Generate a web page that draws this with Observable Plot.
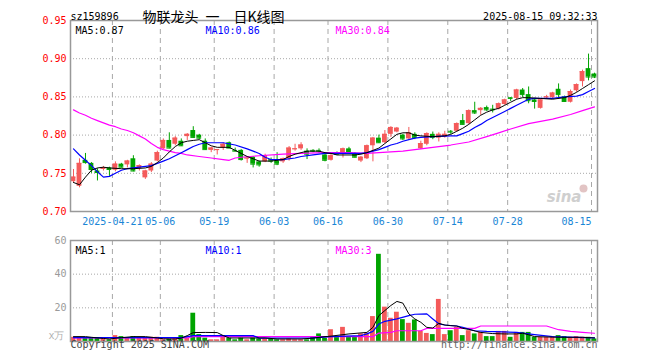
<!DOCTYPE html>
<html><head><meta charset="utf-8">
<script src="https://cdn.jsdelivr.net/npm/d3@7"></script>
<script src="https://cdn.jsdelivr.net/npm/@observablehq/plot@0.6"></script>
<style>
html,body{margin:0;padding:0;background:#fff;}
#chart{position:relative;width:660px;height:360px;overflow:hidden;}
#chart svg{display:block;}
</style></head><body><div id="chart"></div>
<script>
// ---- data (sz159896, daily K) ----
const openP  = [0.739,0.733,0.767,0.763,0.753,0.755,0.757,0.754,0.762,0.761,0.769,0.756,0.744,0.753,0.766,0.782,0.793,0.788,0.792,0.798,0.806,0.800,0.792,0.780,0.780,0.783,0.790,0.780,0.780,0.769,0.771,0.765,0.765,0.768,0.766,0.765,0.769,0.781,0.782,0.779,0.780,0.780,0.774,0.767,0.776,0.775,0.782,0.776,0.766,0.769,0.786,0.796,0.790,0.801,0.804,0.800,0.795,0.801,0.782,0.788,0.801,0.796,0.797,0.805,0.805,0.819,0.815,0.832,0.832,0.836,0.834,0.834,0.840,0.849,0.848,0.859,0.853,0.846,0.835,0.849,0.849,0.860,0.850,0.843,0.858,0.870,0.887,0.880];
const highP  = [0.755,0.769,0.776,0.764,0.756,0.759,0.758,0.765,0.763,0.767,0.773,0.761,0.754,0.764,0.779,0.795,0.803,0.798,0.795,0.802,0.811,0.801,0.795,0.784,0.781,0.790,0.791,0.783,0.781,0.771,0.772,0.766,0.775,0.770,0.777,0.770,0.785,0.788,0.790,0.782,0.781,0.782,0.775,0.775,0.778,0.783,0.784,0.777,0.772,0.787,0.797,0.800,0.806,0.811,0.810,0.801,0.810,0.803,0.792,0.803,0.804,0.803,0.805,0.806,0.816,0.827,0.833,0.843,0.836,0.838,0.839,0.842,0.847,0.849,0.860,0.861,0.863,0.848,0.847,0.852,0.856,0.867,0.851,0.859,0.867,0.885,0.906,0.881];
const lowP   = [0.737,0.731,0.762,0.750,0.740,0.753,0.746,0.752,0.757,0.757,0.752,0.753,0.742,0.751,0.765,0.781,0.782,0.786,0.785,0.793,0.796,0.794,0.780,0.777,0.774,0.780,0.782,0.778,0.766,0.763,0.757,0.758,0.764,0.763,0.760,0.763,0.766,0.779,0.780,0.768,0.777,0.776,0.765,0.766,0.774,0.770,0.776,0.770,0.764,0.768,0.765,0.789,0.789,0.797,0.803,0.793,0.794,0.794,0.781,0.786,0.794,0.791,0.796,0.801,0.804,0.813,0.814,0.827,0.826,0.831,0.829,0.833,0.839,0.844,0.846,0.849,0.841,0.834,0.834,0.847,0.848,0.849,0.843,0.842,0.856,0.863,0.871,0.874];
const closeP = [0.745,0.763,0.764,0.755,0.751,0.757,0.755,0.762,0.758,0.766,0.753,0.760,0.753,0.762,0.777,0.793,0.783,0.796,0.786,0.801,0.797,0.796,0.781,0.783,0.781,0.788,0.783,0.779,0.768,0.770,0.762,0.761,0.773,0.766,0.762,0.769,0.783,0.782,0.787,0.775,0.779,0.779,0.767,0.773,0.775,0.782,0.777,0.771,0.771,0.786,0.796,0.790,0.801,0.810,0.809,0.795,0.803,0.797,0.789,0.802,0.797,0.801,0.801,0.804,0.815,0.814,0.832,0.829,0.835,0.833,0.833,0.841,0.846,0.848,0.859,0.853,0.845,0.844,0.846,0.850,0.855,0.853,0.844,0.857,0.866,0.883,0.876,0.876];
const volume = [2.5,2.5,2.0,2.0,2.0,2.0,1.0,3.5,2.9,2.0,2.9,2.0,2.0,2.5,2.5,1.0,1.5,2.0,3.5,2.0,16.8,4.1,2.0,1.0,1.0,2.5,2.0,1.0,2.0,1.0,2.0,1.5,1.5,1.5,1.0,1.0,1.5,1.0,1.0,1.0,2.9,4.5,2.0,7.0,2.5,8.4,2.5,2.5,4.5,4.7,14.8,51.8,20.4,13.8,17.4,13.0,10.8,12.8,6.0,4.8,4.1,25.0,4.1,6.4,8.4,3.5,6.4,4.5,5.4,2.9,2.9,6.0,6.0,2.5,5.4,5.4,5.4,2.5,2.5,2.5,2.9,3.5,2.9,2.5,2.9,2.5,2.5,1.5];

// moving-average lines (candle index, value)
const ma5Idx  = [0,1,2,3,4,5,6,8,10,12,13,14,15,16,17,18,19,20,21,22,23,24,26,27,28,29,30,31,33,35,36,37,38,39,41,42,43,44,47,48,49,50,51,52,53,54,55,56,57,58,60,62,63,64,65,66,67,68,69,70,71,72,73,74,75,76,78,80,82,83,84,85,86,87];
const ma5Val  = [0.738,0.735,0.745,0.754,0.757,0.758,0.757,0.756,0.756,0.757,0.759,0.764,0.770,0.778,0.785,0.790,0.792,0.793,0.794,0.790,0.786,0.784,0.784,0.780,0.776,0.772,0.769,0.766,0.766,0.768,0.772,0.775,0.777,0.779,0.779,0.777,0.776,0.774,0.774,0.775,0.777,0.780,0.783,0.789,0.795,0.801,0.803,0.803,0.800,0.799,0.798,0.799,0.801,0.805,0.809,0.814,0.820,0.826,0.830,0.833,0.835,0.839,0.843,0.847,0.849,0.849,0.848,0.847,0.849,0.852,0.856,0.861,0.866,0.871];
const ma10Idx = [0,1,2,3,4,5,6,7,8,9,11,13,14,15,16,17,18,19,20,21,22,25,27,29,30,31,32,33,35,37,38,40,42,48,49,50,51,52,53,54,55,56,57,58,60,63,64,65,66,67,68,69,70,71,72,73,74,75,76,77,80,82,84,85,86,87];
const ma10Val = [0.782,0.774,0.767,0.760,0.752,0.745,0.746,0.750,0.754,0.756,0.758,0.760,0.763,0.766,0.769,0.773,0.777,0.781,0.785,0.788,0.790,0.790,0.787,0.782,0.779,0.776,0.771,0.768,0.768,0.770,0.772,0.774,0.776,0.776,0.777,0.779,0.781,0.784,0.787,0.789,0.792,0.794,0.796,0.797,0.798,0.799,0.799,0.802,0.805,0.810,0.814,0.819,0.823,0.827,0.831,0.835,0.839,0.843,0.847,0.848,0.848,0.850,0.851,0.853,0.857,0.861];
const ma30Idx = [0,1,2,3,4,5,6,7,8,9,10,11,12,13,14,15,16,17,18,19,21,23,25,26,27,28,31,35,38,42,46,49,51,53,55,58,61,63,66,69,71,73,76,80,83,85,87];
const ma30Val = [0.833,0.829,0.826,0.822,0.819,0.816,0.813,0.811,0.808,0.806,0.803,0.799,0.795,0.789,0.784,0.781,0.779,0.777,0.776,0.774,0.772,0.770,0.768,0.767,0.770,0.771,0.773,0.775,0.776,0.777,0.777,0.776,0.777,0.778,0.779,0.782,0.785,0.787,0.791,0.798,0.803,0.808,0.815,0.821,0.827,0.832,0.837];

const vma5Idx  = [0,2,3,5,6,8,10,12,14,15,16,17,18,19,20,22,24,25,26,28,32,34,38,40,42,43,46,49,50,51,52,53,54,55,56,57,58,59,60,61,62,63,64,65,66,68,70,72,74,75,76,77,80,82,85,87];
const vma5Val  = [2.9,2.9,2.5,1.8,1.5,2.3,2.9,2.9,2.1,1.6,1.5,1.5,2.0,3.5,5.3,5.4,5.3,3.5,2.1,2.1,2.1,1.5,1.5,2.0,2.9,3.2,4.5,5.4,8.4,15.4,18.4,21.4,23.8,22.8,16.4,13.4,11.4,8.4,8.0,10.8,9.8,9.4,9.2,7.8,7.2,5.4,4.7,4.5,4.5,4.9,4.0,2.9,2.6,2.5,2.5,2.1];
const vma10Idx = [0,18,19,20,30,31,40,43,48,49,50,51,52,54,56,57,59,60,61,62,64,65,67,69,74,77,80,84,87];
const vma10Val = [2.3,2.3,2.9,3.5,3.5,2.0,2.1,2.9,3.5,4.5,6.0,10.4,12.0,13.4,15.4,16.2,16.4,13.4,10.5,9.8,9.2,8.4,6.4,6.0,5.4,4.1,2.9,2.5,2.1];
const vma30Idx = [0,19,20,48,50,51,53,54,58,59,67,68,79,81,83,85,87];
const vma30Val = [2.1,2.1,2.9,2.9,2.9,5.0,5.4,6.4,6.4,7.8,7.8,9.2,9.2,7.0,6.0,5.4,4.9];

const dateIdx    = [7,15,24,34,43,53,63,73,87];
const dateLabels = ["2025-04-21","05-06","05-19","06-03","06-16","06-30","07-14","07-28","08-15"];
const priceTicks = [0.70,0.75,0.80,0.85,0.90,0.95];
const volTicks   = [20,40,60];
const priceLegend = ["MA5:0.87","MA10:0.86","MA30:0.84"];
const volLegend   = ["MA5:1","MA10:1","MA30:3"];
const codeText  = "sz159896";
const titleText = "物联龙头\u2002一\u2002\u2002日K线图";
const timeText  = "2025-08-15 09:32:33";

// ---- build tables ----
const candles = openP.map((o, i) => ({i, open: o, high: highP[i], low: lowP[i], close: closeP[i], vol: volume[i], up: closeP[i] >= o}));
const series = (idx, val) => idx.map((i, k) => ({i, v: val[k]}));
const ma5 = series(ma5Idx, ma5Val), ma10 = series(ma10Idx, ma10Val), ma30 = series(ma30Idx, ma30Val);
const vma5 = series(vma5Idx, vma5Val), vma10 = series(vma10Idx, vma10Val), vma30 = series(vma30Idx, vma30Val);
const dates = dateIdx.map((i, k) => ({i, label: dateLabels[k]}));

const UP = "#f45a5a", DOWN = "#00a400";
const col = d => d.up ? UP : DOWN;
const MONO = "'DejaVu Sans Mono', monospace";
const GRID = "#a8a8a8";
const LINECOL = ["#000000", "#0000ff", "#ff00ff"];
const xc = d => d.i + 0.5;

const legendMarks = (labels) => labels.map((t, k) => Plot.text([t], {
  frameAnchor: "top-left", text: d => d, dx: 5 + 130 * k, dy: 6.5, textAnchor: "start",
  fill: LINECOL[k], fontFamily: MONO, fontSize: 10
}));

const price = Plot.plot({
  width: 660, height: 232,
  marginTop: 20, marginBottom: 21, marginLeft: 70, marginRight: 63,
  style: {fontFamily: MONO, fontSize: "10px", background: "#fff"},
  x: {domain: [0, 88], axis: null},
  y: {domain: [0.70, 0.95], axis: null},
  marks: [
    Plot.ruleY(priceTicks.slice(1, -1), {stroke: GRID, strokeDasharray: "1,2"}),
    Plot.ruleX(dateIdx, {stroke: GRID, strokeDasharray: "5,4"}),
    Plot.text(["sina"], {frameAnchor: "bottom-right", text: d => d, dx: -16, dy: -10, fill: "#cfcfcf", fontSize: 15, fontWeight: "bold", fontStyle: "italic", fontFamily: "'DejaVu Sans', sans-serif"}),
    Plot.dot([0], {frameAnchor: "bottom-right", dx: -14, dy: -23, r: 4, fill: "#e2c4c4"}),
    Plot.ruleX(candles, {x: xc, y1: "low", y2: "high", stroke: col, strokeWidth: 1}),
    Plot.rect(candles, {x1: d => d.i + 0.1, x2: d => d.i + 0.9, y1: "open", y2: "close", fill: col}),
    Plot.ruleY(candles, {x1: d => d.i + 0.1, x2: d => d.i + 0.9, y: "close", stroke: col}),
    Plot.line(ma30, {x: xc, y: "v", stroke: LINECOL[2], strokeWidth: 1.2}),
    Plot.line(ma10, {x: xc, y: "v", stroke: LINECOL[1], strokeWidth: 1.2}),
    Plot.line(ma5, {x: xc, y: "v", stroke: LINECOL[0], strokeWidth: 1}),
    Plot.frame({stroke: "#999", strokeWidth: 1.5}),
    Plot.text(priceTicks, {frameAnchor: "left", y: d => d, text: d => d.toFixed(2), textAnchor: "end", dx: -4, fill: "#ff0000", fontSize: 10}),
    Plot.text(dates.slice(0, -1), {x: "i", y: 0.70, text: "label", dy: 10, fill: "#1a86d6", fontSize: 10}),
    Plot.text(dates.slice(-1), {x: "i", y: 0.70, text: "label", dy: 10, textAnchor: "end", fill: "#1a86d6", fontSize: 10}),
    ...legendMarks(priceLegend),
    Plot.text([codeText], {frameAnchor: "top-left", text: d => d, dy: -7.5, textAnchor: "start", fill: "#000", fontSize: 10}),
    Plot.text([titleText], {frameAnchor: "top-left", text: d => d, dx: 143, dy: -8, textAnchor: "middle", fill: "#000", fontSize: 14, fontFamily: "'Noto Sans CJK SC', sans-serif"}),
    Plot.text([timeText], {frameAnchor: "top-right", text: d => d, dy: -7.5, textAnchor: "end", fill: "#000", fontSize: 10})
  ]
});

const vol = Plot.plot({
  width: 660, height: 128,
  marginTop: 8, marginBottom: 19, marginLeft: 70, marginRight: 63,
  style: {fontFamily: MONO, fontSize: "10px", background: "#fff"},
  x: {domain: [0, 88], axis: null},
  y: {domain: [0, 60], axis: null},
  marks: [
    Plot.ruleY(volTicks.slice(0, -1), {stroke: GRID, strokeDasharray: "1,2"}),
    Plot.ruleX(dateIdx, {stroke: GRID, strokeDasharray: "5,4"}),
    Plot.rect(candles, {x1: d => d.i + 0.1, x2: d => d.i + 0.9, y1: 0, y2: "vol", fill: col}),
    Plot.line(vma30, {x: xc, y: "v", stroke: LINECOL[2], strokeWidth: 1.2}),
    Plot.line(vma10, {x: xc, y: "v", stroke: LINECOL[1], strokeWidth: 1.2}),
    Plot.line(vma5, {x: xc, y: "v", stroke: LINECOL[0], strokeWidth: 1}),
    Plot.frame({stroke: "#999", strokeWidth: 1.5}),
    Plot.text(volTicks, {frameAnchor: "left", y: d => d, text: d => String(d), textAnchor: "end", dx: -4, fill: "#9a9a9a", fontSize: 10}),
    Plot.text(["x万"], {frameAnchor: "bottom-left", text: d => d, textAnchor: "end", dx: -6, dy: -3, fill: "#b0b0b0", fontSize: 10}),
    ...legendMarks(volLegend),
    Plot.text(["Copyright 2025 SINA.COM"], {frameAnchor: "bottom-left", text: d => d, textAnchor: "start", dy: 6.5, fill: "#444", fontSize: 10}),
    Plot.text(["http://finance.sina.com.cn"], {frameAnchor: "bottom-right", text: d => d, textAnchor: "end", dy: 6.5, fill: "#666", fontSize: 10})
  ]
});

const root = document.getElementById("chart");
root.appendChild(price);
root.appendChild(vol);
</script>
</body></html>
